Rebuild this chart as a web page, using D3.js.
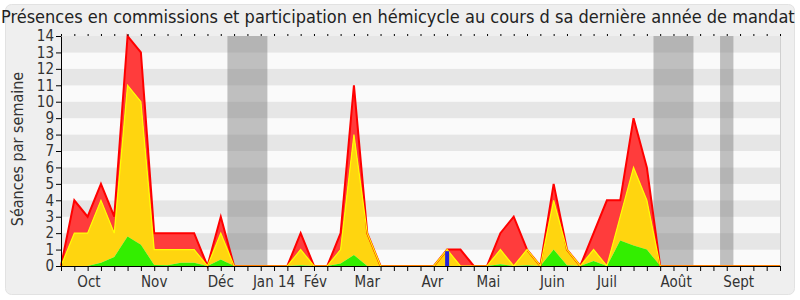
<!DOCTYPE html>
<html>
<head>
<meta charset="utf-8">
<script src="https://cdn.jsdelivr.net/npm/d3@7"></script>
<style>
  body { margin: 0; background: #ffffff; }
  svg text { font-family: "DejaVu Sans Condensed", "DejaVu Sans", sans-serif; font-stretch: condensed; }
</style>
</head>
<body>
<div class="chart"></div>
<script>
// one point per week, from the end of september to september
var weeks = d3.range(0, 55);
// stacked layers: green at bottom, yellow above it, red on top
var greenVals  = [0, 0, 0, 0.2, 0.55, 1.8, 1.3, 0.06, 0.05, 0.2, 0.2, 0, 0.4, 0, 0, 0, 0, 0, 0.05, 0, 0, 0.15, 0.67, 0, 0, 0, 0, 0, 0, 0, 0, 0, 0, 0.1, 0, 0.05, 0, 1, 0.05, 0, 0.3, 0, 1.55, 1.25, 1, 0, 0, 0, 0, 0, 0, 0, 0, 0, 0];
var yellowVals = [0, 2, 2, 3.8, 1.45, 9.2, 8.7, 0.94, 0.95, 0.8, 0.8, 0, 1.6, 0, 0, 0, 0, 0, 0.95, 0, 0, 0.85, 7.33, 2, 0, 0, 0, 0, 0, 1, 0, 0, 0, 0.9, 0, 0.95, 0, 3, 0.95, 0, 0.7, 0, 1.45, 4.75, 3, 0, 0, 0, 0, 0, 0, 0, 0, 0, 0];
var redVals    = [0, 2, 1, 1, 1, 3, 3, 1, 1, 1, 1, 0, 1, 0, 0, 0, 0, 0, 1, 0, 0, 1, 3, 0, 0, 0, 0, 0, 0, 0, 1, 0, 0, 1, 3, 0, 0, 1, 0, 0, 1, 4, 1, 3, 2, 0, 0, 0, 0, 0, 0, 0, 0, 0, 0];
// blue marks (single week)
var blueWeeks = [29];
var blueVals = [0.9];
// holiday periods, in weeks
var holidayStart = [12.5, 44.5, 49.5];
var holidayEnd = [15.5, 47.5, 50.5];
// month labels and the week where each one sits
var monthLabels = ["Oct", "Nov", "Déc", "Jan 14", "Fév", "Mar", "Avr", "Mai", "Juin", "Juil", "Août", "Sept"];
var monthWeeks = [2.1, 7.0, 12.0, 16.0, 19.1, 23.0, 27.9, 32.1, 36.9, 41.0, 46.2, 50.9];
var yTicks = d3.range(0, 15);

var W = 800, H = 300;
var margin = { top: 36, right: 20, bottom: 34, left: 61 };
var width = W - margin.left - margin.right;
var height = H - margin.top - margin.bottom;

var svg = d3.select(".chart").append("svg")
    .attr("width", W)
    .attr("height", H);

// rounded panel
svg.append("rect")
    .attr("x", 5.5).attr("y", 4.5)
    .attr("width", 789).attr("height", 290)
    .attr("rx", 6)
    .attr("fill", "#efefef")
    .attr("stroke", "#e2e2e2");

svg.append("text")
    .attr("x", 1)
    .attr("y", 23)
    .style("font-size", "18px")
    .attr("fill", "#222")
    .text("Présences en commissions et participation en hémicycle au cours d sa dernière année de mandat");

var g = svg.append("g")
    .attr("transform", "translate(" + margin.left + "," + margin.top + ")");

var x = d3.scaleLinear().domain([0, 54]).range([0, width]);
var y = d3.scaleLinear().domain([0, 14]).range([height, 0]);

// stripes
g.selectAll(".stripe")
    .data(d3.range(0, 14))
    .enter().append("rect")
      .attr("x", 0)
      .attr("y", function(d) { return y(d + 1); })
      .attr("width", width)
      .attr("height", function(d) { return y(d) - y(d + 1); })
      .attr("fill", function(d) { return d % 2 == 1 ? "#e6e6e6" : "#fafafa"; });

// holidays
g.selectAll(".holiday")
    .data(holidayStart)
    .enter().append("rect")
      .attr("x", function(d) { return x(d); })
      .attr("y", 0)
      .attr("width", function(d, i) { return x(holidayEnd[i]) - x(d); })
      .attr("height", height)
      .attr("fill", "rgba(120,120,120,0.45)");

// stack the layers
var table = weeks.map(function(w, i) {
  return { week: w, green: greenVals[i], yellow: yellowVals[i], red: redVals[i] };
});
var stack = d3.stack().keys(["green", "yellow", "red"]);
var layers = stack(table);

var fills = { green: "#33ee00", yellow: "#ffd50f", red: "#ff3c3c" };
var strokes = { green: "#33ff00", yellow: "#ffff00", red: "#ff0000" };

var area = d3.area()
    .x(function(d) { return x(d.data.week); })
    .y0(function(d) { return y(d[0]); })
    .y1(function(d) { return y(d[1]); });
var topLine = d3.line()
    .x(function(d) { return x(d.data.week); })
    .y(function(d) { return y(d[1]); });

// draw red first so the lower layers sit over it
layers.slice().reverse().forEach(function(layer) {
  g.append("path")
      .datum(layer)
      .attr("d", area)
      .attr("fill", fills[layer.key]);
});
layers.slice().reverse().forEach(function(layer) {
  if (layer.key == "green") return;
  g.append("path")
      .datum(layer)
      .attr("d", topLine)
      .attr("fill", "none")
      .attr("stroke", strokes[layer.key])
      .attr("stroke-width", layer.key == "red" ? 2 : 1.2);
});

// blue bars
g.selectAll(".blue")
    .data(blueWeeks)
    .enter().append("rect")
      .attr("x", function(d) { return x(d) - 2; })
      .attr("y", function(d, i) { return y(blueVals[i]); })
      .attr("width", 4)
      .attr("height", function(d, i) { return y(0) - y(blueVals[i]); })
      .attr("fill", "#2222dd");

// right border line of the plot
g.append("line")
    .attr("x1", width + 0.5).attr("x2", width + 0.5)
    .attr("y1", 0).attr("y2", height)
    .attr("stroke", "#d0d0d0");

// x axis, week ticks
var xAxis = g.append("g")
    .attr("transform", "translate(0," + height + ")")
    .call(d3.axisBottom(x).tickValues(weeks).tickSize(5).tickFormat("").tickSizeOuter(0));
xAxis.select(".domain").attr("stroke", "#000");

var xTop = g.append("g")
    .call(d3.axisTop(x).tickValues(weeks).tickSize(2).tickFormat("").tickSizeOuter(0));
xTop.select(".domain").remove();

// month labels
g.selectAll(".month")
    .data(monthLabels)
    .enter().append("text")
      .attr("x", function(d, i) { return x(monthWeeks[i]); })
      .attr("y", height + 21)
      .attr("text-anchor", "middle")
      .style("font-size", "15px")
      .attr("fill", "#333")
      .text(function(d) { return d; });

// y axis
var yAxis = g.append("g")
    .call(d3.axisLeft(y).tickValues(yTicks).tickSize(5).tickSizeOuter(0));
yAxis.selectAll("text")
    .style("font-size", "15px")
    .attr("fill", "#333")
    .attr("x", -7);

g.append("text")
    .attr("transform", "rotate(-90)")
    .attr("x", -height / 2 + 2)
    .attr("y", -38)
    .attr("text-anchor", "middle")
    .style("font-size", "16px")
    .attr("fill", "#333")
    .text("Séances par semaine");
</script>
</body>
</html>
